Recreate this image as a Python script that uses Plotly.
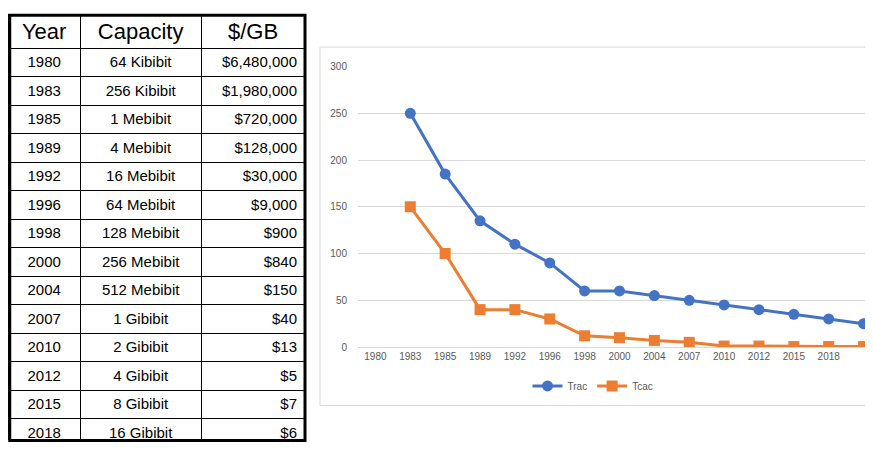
import plotly.graph_objects as go

# table data
years = ["1980", "1983", "1985", "1989", "1992", "1996", "1998", "2000", "2004",
         "2007", "2010", "2012", "2015", "2018"]
capacity = ["64 Kibibit", "256 Kibibit", "1 Mebibit", "4 Mebibit", "16 Mebibit",
            "64 Mebibit", "128 Mebibit", "256 Mebibit", "512 Mebibit", "1 Gibibit",
            "2 Gibibit", "4 Gibibit", "8 Gibibit", "16 Gibibit"]
price = ["$6,480,000", "$1,980,000", "$720,000", "$128,000", "$30,000", "$9,000",
         "$900", "$840", "$150", "$40", "$13", "$5", "$7", "$6"]

# chart data (points sit on categories 1..14, first label has no point)
trac = [250, 185, 135, 110, 90, 60, 60, 55, 50, 45, 40, 35, 30, 25]
tcac = [150, 100, 40, 40, 30, 12, 10, 7, 5, 1, 1, 0.5, 0.5, 0.5]

W, H = 873, 457
OFF = 8  # page body margin shifts the figure by 8px


def px(x):
    return max(0, min(1, (x - OFF) / W))


def py(y):
    return max(0, min(1, 1 - (y - OFF) / H))


xs = list(range(1, len(trac) + 1))

fig = go.Figure()

fig.add_trace(go.Table(
    domain=dict(x=[px(5), px(305)], y=[py(446), py(5)]),
    columnwidth=[73, 122, 105],
    header=dict(values=["Year", "Capacity", "$/GB"], height=34,
                align="center", fill_color="white",
                line=dict(color="black", width=1),
                font=dict(family="Liberation Sans, Arial", size=22, color="black")),
    cells=dict(values=[years, capacity, price], height=28.5,
               align=["center", "center", "right"], fill_color="white",
               line=dict(color="black", width=1),
               font=dict(family="Liberation Sans, Arial", size=15, color="black")),
))

fig.add_trace(go.Scatter(x=xs, y=trac, name="Trac", mode="lines+markers",
                         line=dict(color="#4472C4", width=3),
                         marker=dict(symbol="circle", size=11, color="#4472C4")))
fig.add_trace(go.Scatter(x=xs, y=tcac, name="Tcac", mode="lines+markers",
                         line=dict(color="#ED7D31", width=3),
                         marker=dict(symbol="square", size=11, color="#ED7D31")))

fig.update_layout(
    width=W, height=H, margin=dict(l=0, r=0, t=0, b=0),
    paper_bgcolor="white", plot_bgcolor="white",
    font=dict(family="Liberation Sans, Arial", size=10, color="#595959"),
    xaxis=dict(domain=[px(358), px(881)], range=[-0.5, 14.5],
               tickvals=list(range(len(years))), ticktext=years,
               showgrid=False, zeroline=False, showline=True,
               linecolor="#D9D9D9", ticks="", tickfont=dict(size=10, color="#595959")),
    yaxis=dict(domain=[py(350), py(62)], range=[0, 300], dtick=50,
               showgrid=True, gridcolor="#D9D9D9", zeroline=False,
               tickfont=dict(size=10, color="#595959"), ticks="",
               ticklabelstandoff=10),
    legend=dict(orientation="h", x=px(593), xanchor="center", y=py(390),
                yanchor="middle", font=dict(size=10, color="#595959"),
                bgcolor="rgba(0,0,0,0)"),
    shapes=[
        dict(type="rect", xref="paper", yref="paper",
             x0=px(320), x1=px(872), y0=py(410), y1=py(42),
             line=dict(color="#D9D9D9", width=1)),
        dict(type="rect", xref="paper", yref="paper",
             x0=px(5) + 0.002, x1=px(305), y0=py(446), y1=py(5) - 0.003,
             line=dict(color="black", width=3)),
    ],
)

fig.write_html("out.html")
